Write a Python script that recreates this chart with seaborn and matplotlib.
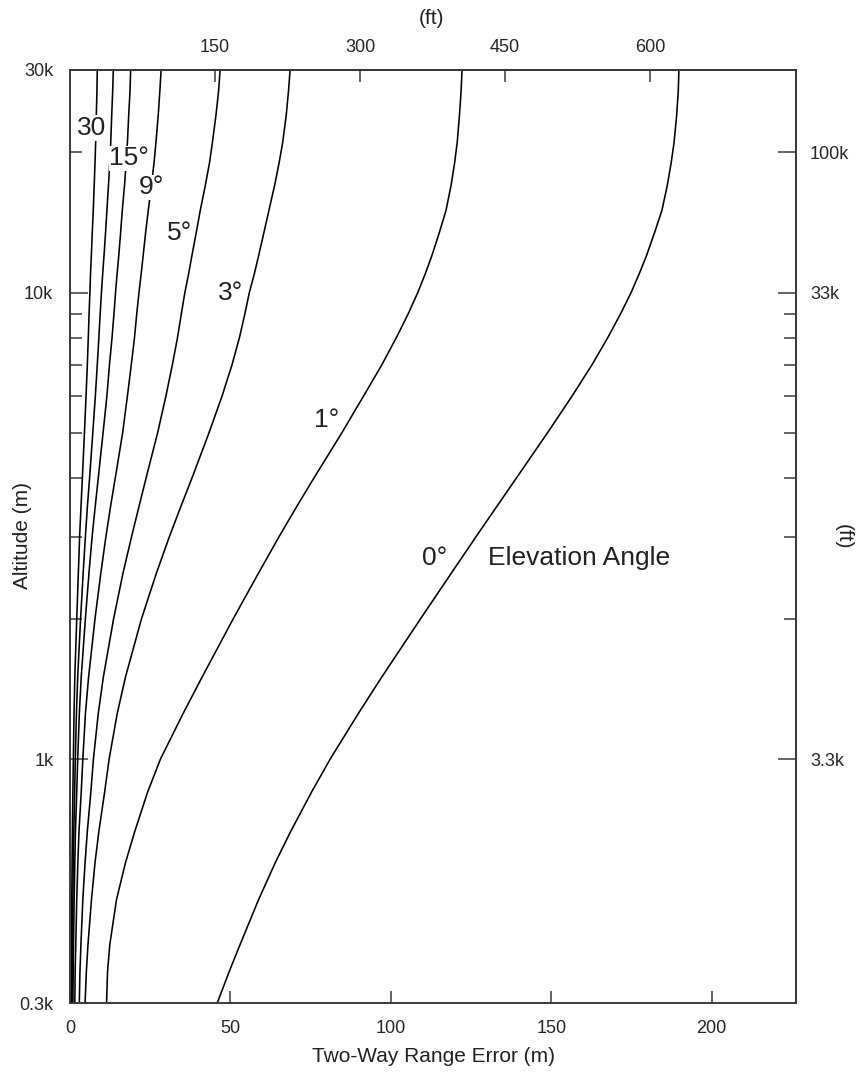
import numpy as np
import pandas as pd
import matplotlib
matplotlib.use("Agg")
import matplotlib.pyplot as plt
import seaborn as sns
from matplotlib.ticker import FixedLocator, NullFormatter

# Altitude samples (m) shared by every curve
altitude_m = [300, 350, 400, 500, 600, 700, 850, 1000, 1250, 1500, 2000,
              2500, 3000, 3500, 4000, 5000, 6000, 7000, 8000, 9000, 10000,
              11000, 12000, 13500, 15000, 17000, 19000, 21000, 24000, 27000,
              30000]

# Two-way range error (m) for each elevation angle
err_0deg = [45.9, 49.6, 53.0, 58.8, 64.0, 68.8, 75.3, 81.1, 89.8, 97.2, 109.3,
            118.8, 126.6, 133.3, 139.1, 148.8, 156.5, 162.7, 167.6, 171.6, 174.9,
            177.5, 179.7, 182.3, 184.5, 186.2, 187.4, 188.3, 189.1, 189.6, 189.8]
err_1deg = [11.4, 11.7, 12.4, 14.5, 17.3, 20.2, 24.2, 28.2, 35.2, 41.2, 50.9,
            58.7, 65.2, 70.9, 76.0, 84.7, 91.5, 97.2, 101.7, 105.4, 108.4,
            110.8, 112.8, 115.2, 117.2, 118.8, 119.9, 120.7, 121.4, 121.9, 122.2]
err_3deg = [4.7, 5.1, 5.6, 6.7, 7.8, 9.0, 10.8, 12.2, 14.7, 17.3, 22.3,
            26.9, 31.0, 34.7, 38.0, 43.3, 47.4, 50.5, 52.8, 54.5, 55.9,
            57.5, 58.8, 60.5, 62.0, 63.8, 65.2, 66.3, 67.4, 68.1, 68.6]
err_5deg = [2.9, 3.1, 3.4, 4.0, 4.7, 5.4, 6.5, 7.3, 8.8, 10.4, 13.6,
            16.5, 19.2, 21.6, 23.7, 27.3, 29.9, 31.9, 33.5, 34.7, 35.8,
            37.0, 38.0, 39.4, 40.6, 42.2, 43.5, 44.4, 45.5, 46.3, 46.8]
err_9deg = [1.5, 1.6, 1.8, 2.1, 2.45, 2.8, 3.5, 4.0, 4.8, 5.8, 7.8,
            9.6, 11.2, 12.7, 14.1, 16.4, 17.9, 19.1, 20.1, 20.8, 21.5,
            22.2, 22.8, 23.6, 24.4, 25.4, 26.2, 26.8, 27.5, 28.0, 28.4]
err_15deg = [0.9, 1.0, 1.1, 1.3, 1.5, 1.7, 2.1, 2.4, 2.9, 3.5, 4.8,
             5.9, 6.9, 7.9, 8.8, 10.3, 11.5, 12.3, 13.1, 13.7, 14.2,
             14.7, 15.2, 15.8, 16.3, 17.0, 17.5, 17.9, 18.3, 18.7, 18.9]
err_30deg = [0.6, 0.7, 0.75, 0.9, 1.0, 1.2, 1.45, 1.65, 2.0, 2.4, 3.3,
             4.1, 4.8, 5.45, 6.1, 7.1, 7.9, 8.5, 9.0, 9.4, 9.8,
             10.2, 10.6, 11.1, 11.5, 12.0, 12.4, 12.7, 13.0, 13.3, 13.5]
err_90deg = [0.4, 0.45, 0.5, 0.55, 0.65, 0.75, 0.9, 1.05, 1.25, 1.5, 2.1,
             2.6, 3.0, 3.45, 3.85, 4.5, 5.0, 5.4, 5.7, 5.95, 6.2,
             6.4, 6.65, 6.95, 7.25, 7.55, 7.8, 8.0, 8.2, 8.4, 8.5]

angle_names = ["0", "1", "3", "5", "9", "15", "30", "90"]
angle_series = [err_0deg, err_1deg, err_3deg, err_5deg, err_9deg,
                err_15deg, err_30deg, err_90deg]

# Inline curve labels: text, error (m), altitude (m), masks the line beneath
label_texts = ["30", "15°", "9°", "5°", "3°", "1°", "0°"]
label_err = [6.7, 18.5, 25.4, 34.3, 50.2, 80.1, 113.8]
label_alt = [22500, 19400, 16800, 13400, 10000, 5340, 2693]
label_masks = [True, True, True, False, False, False, False]

# Axis tick values and labels
left_ticks = [300, 1000, 10000, 30000]
left_labels = ["0.3k", "1k", "10k", "30k"]
minor_alt = [2000, 3000, 4000, 5000, 6000, 7000, 8000, 9000]
right_ticks = [1000, 10000, 20000]
right_labels = ["3.3k", "33k", "100k"]
x_ticks = [0, 50, 100, 150, 200]
ft_ticks = [150, 300, 450, 600]
FT_PER_M = 3.318

df = pd.concat(
    [pd.DataFrame({"alt": altitude_m, "err": s, "angle": a})
     for a, s in zip(angle_names, angle_series)],
    ignore_index=True,
)

sns.set_theme(style="white")
plt.rcParams["font.family"] = ["Liberation Sans", "DejaVu Sans"]

W, H = 861, 1074
fig = plt.figure(figsize=(W / 100, H / 100), dpi=100)
ax = fig.add_axes([70 / W, 1 - 1003 / H, (796 - 70) / W, (1003 - 70) / H])

sns.lineplot(data=df, x="err", y="alt", units="angle", estimator=None,
             sort=False, color="black", linewidth=1.15, ax=ax, legend=False)

ax.set_yscale("log")
ax.set_ylim(300, 30000)
ax.set_xlim(0, 226.3)
ax.set_xlabel("")
ax.set_ylabel("")

spine_c = "#3a3a3a"
for sp in ax.spines.values():
    sp.set_visible(True)
    sp.set_color(spine_c)
    sp.set_linewidth(1.4)

TS = 13
# left axis
ax.yaxis.set_major_locator(FixedLocator(left_ticks))
ax.set_yticklabels(left_labels)
ax.yaxis.set_minor_locator(FixedLocator(minor_alt + [20000]))
ax.yaxis.set_minor_formatter(NullFormatter())
ax.tick_params(axis="y", which="major", direction="in", length=13, width=1.1,
               color=spine_c, pad=12, labelsize=TS, left=True, right=False)
ax.tick_params(axis="y", which="minor", direction="in", length=8.6, width=1.1,
               color=spine_c, left=True, right=False)
# bottom axis
ax.set_xticks(x_ticks)
ax.tick_params(axis="x", which="major", direction="in", length=8.6, width=1.1,
               color=spine_c, pad=12, labelsize=TS, bottom=True, top=False)
ax.tick_params(axis="x", which="minor", bottom=False, top=False)

# top axis in feet
secx = ax.secondary_xaxis("top", functions=(lambda m: m * FT_PER_M,
                                            lambda f: f / FT_PER_M))
secx.set_xticks(ft_ticks)
secx.tick_params(axis="x", direction="in", length=8.6, width=1.1,
                 color=spine_c, pad=10, labelsize=TS)
secx.spines["top"].set_color(spine_c)
secx.spines["top"].set_linewidth(1.4)

# right axis in feet
secy = ax.secondary_yaxis("right")
secy.yaxis.set_major_locator(FixedLocator(right_ticks))
secy.set_yticklabels(right_labels)
secy.yaxis.set_minor_locator(FixedLocator(minor_alt))
secy.yaxis.set_minor_formatter(NullFormatter())
secy.tick_params(axis="y", which="major", direction="in", length=13, width=1.1,
                 color=spine_c, pad=10, labelsize=TS)
secy.tick_params(axis="y", which="minor", direction="in", length=8.6,
                 width=1.1, color=spine_c)
secy.spines["right"].set_color(spine_c)
secy.spines["right"].set_linewidth(1.4)

# inline angle labels
for t, xe, ya, mask in zip(label_texts, label_err, label_alt, label_masks):
    box = dict(facecolor="white", edgecolor="none", pad=0.5) if mask else None
    ax.text(xe, ya, t, fontsize=19, ha="center", va="center", color="#222222",
            bbox=box)
ax.text(130.3, 2693, "Elevation Angle", fontsize=19, ha="left", va="center",
        color="#222222")

# axis titles
LS = 15
fig.text(23 / W, 1 - 536 / H, "Altitude (m)", rotation=90, ha="center",
         va="center", fontsize=LS, color="#222222")
fig.text(843 / W, 1 - 537 / H, "(ft)", rotation=-90, ha="center",
         va="center", fontsize=LS, color="#222222")
fig.text(432 / W, 1 - 18 / H, "(ft)", ha="center", va="center",
         fontsize=LS, color="#222222")
fig.text(434 / W, 1 - 1057 / H, "Two-Way Range Error (m)", ha="center",
         va="center", fontsize=LS, color="#222222")

fig.savefig("out.png", dpi=100, facecolor="white")
